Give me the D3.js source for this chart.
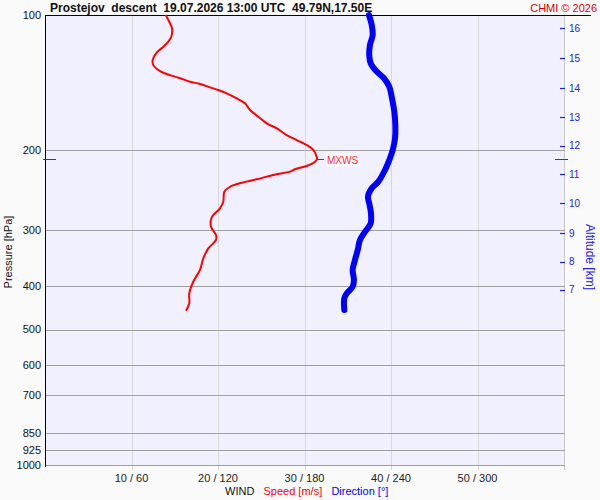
<!DOCTYPE html>
<html><head><meta charset="utf-8">
<script src="https://cdn.jsdelivr.net/npm/d3@7"></script>
<style>
html,body{margin:0;padding:0;background:#fafafa;}
svg{display:block;font-family:"Liberation Sans",Arial,sans-serif;}
</style></head>
<body><svg id="c" width="600" height="500"></svg>
<script>
// ---- data ----
const titleText = "Prostejov  descent  19.07.2026 13:00 UTC  49.79N,17.50E";
const creditText = "CHMI © 2026";
const pressureTicks = [100,200,300,400,500,600,700,850,925,1000];
const speedTicks = [10,20,30,40,50];
const dirTicks = [60,120,180,240,300];
const altKm = [7,8,9,10,11,12,13,14,15,16];
const altPressure = [408.3,353.3,305.6,262.1,225.9,195.2,168.8,145.5,124.8,107.0];

const speedPressure = [100,104.3,107,111.8,114.6,117.6,121.3,125.9,129.2,132.5,134.4,136.4,138.2,140.7,142.3,144.8,146.8,149.3,153.2,157.1,162.6,168.3,174.1,178.6,184.8,189.6,194.5,199.5,206.5,209,211.8,216.5,220.2,222.9,226.7,231.8,235.9,240.8,247,260,268.9,281.6,295.4,308.3,316.2,330,347.3,368.6,391.5,415.4,437.2,454.2];
const speedValues = [13.95,14.45,14.68,14.6,14.25,13.68,12.91,12.45,12.52,13.1,13.68,14.65,15.61,16.76,17.92,19.08,20.03,21.0,22.16,23.12,23.7,24.66,25.63,26.79,27.94,29.1,30.25,31.02,31.41,31.45,31.21,30.25,28.9,28.32,26.39,24.47,22.74,21.39,20.73,20.61,20.23,19.27,19.19,19.77,19.77,18.88,18.3,17.92,17.14,16.68,16.68,16.3];

const dirPressure = [100,105.2,110.8,116.6,122.7,128.0,133.6,138.2,144.3,153.2,164.0,175.6,187.9,199.5,210.1,221.1,234.6,242.7,253.4,262.1,275.9,290.4,303.1,316.2,333,350.4,368.6,387.9,401.6,415.4,426.2,452.4];
const dirValues = [224.7,226.6,227.3,225.4,224.9,225.9,230.1,235.1,238.8,240.7,242.3,243,242.8,241.2,238.8,235.8,231.2,226.6,224,224.9,226.1,225.9,222,218.5,216.9,215,213.4,214.3,213.4,209.3,207.6,207.6];

const mxwsPressure = 209;
const mxwsSpeed = 31.45;

// ---- scales ----
const svg = d3.select("#c");
const L = 45, R = 564, T = 15, B = 465;
const y = d3.scaleLog().domain([100,1000]).range([T,B]);
const xs = d3.scaleLinear().domain([0,60]).range([L,R]);
const xd = d3.scaleLinear().domain([0,360]).range([L,R]);

// plot background
svg.append("rect").attr("x",L).attr("y",T).attr("width",R-L+1).attr("height",B-T).attr("fill","#f0f0ff");

// vertical grid
svg.append("g").selectAll("line").data(speedTicks.concat([60])).join("line")
  .attr("x1",d=>Math.round(xs(d))+0.5).attr("x2",d=>Math.round(xs(d))+0.5)
  .attr("y1",T).attr("y2",470)
  .attr("stroke",d=>d===60?"#c8c8c8":"#d8d8d8").attr("stroke-width",1);

// horizontal grid
svg.append("g").selectAll("line").data(pressureTicks.filter(p=>p>100)).join("line")
  .attr("x1",L).attr("x2",R+1)
  .attr("y1",d=>Math.round(y(d))+0.5).attr("y2",d=>Math.round(y(d))+0.5)
  .attr("stroke","#a0a0a0").attr("stroke-width",1);

// axes lines
svg.append("line").attr("x1",L+0.5).attr("x2",L+0.5).attr("y1",T).attr("y2",B+2).attr("stroke","#000");
svg.append("line").attr("x1",L).attr("x2",591).attr("y1",T+0.5).attr("y2",T+0.5).attr("stroke","#000");

// left pressure labels
svg.append("g").selectAll("text").data(pressureTicks).join("text")
  .attr("x",41).attr("y",d=>y(d)).attr("dy","0.35em").attr("text-anchor","end")
  .attr("font-size",11).attr("fill","#111").text(d=>d);

svg.append("text").attr("transform",`translate(12,${252}) rotate(-90)`)
  .attr("text-anchor","middle").attr("font-size",11).attr("fill","#111").text("Pressure [hPa]");

// bottom labels
svg.append("g").selectAll("text").data(speedTicks).join("text")
  .attr("x",d=>xs(d)).attr("y",478).attr("dy","0.35em").attr("text-anchor","middle")
  .attr("font-size",11).attr("fill","#222").text((d,i)=>`${d} / ${dirTicks[i]}`);

const leg = svg.append("text").attr("y",491).attr("dy","0.35em").attr("font-size",11).attr("x",225).style("white-space","pre");
leg.append("tspan").attr("fill","#111").text("WIND   ");
leg.append("tspan").attr("fill","#ff0000").text("Speed [m/s]   ");
leg.append("tspan").attr("fill","#0000ff").text("Direction [°]");

// altitude axis
const ag = svg.append("g");
ag.selectAll("line").data(altKm).join("line")
  .attr("x1",560).attr("x2",565).attr("y1",(d,i)=>Math.round(y(altPressure[i]))+0.5).attr("y2",(d,i)=>Math.round(y(altPressure[i]))+0.5)
  .attr("stroke","#2020e8").attr("stroke-width",1.2);
ag.selectAll("text").data(altKm).join("text")
  .attr("x",569).attr("y",(d,i)=>y(altPressure[i])).attr("dy","0.35em")
  .attr("font-size",10).attr("fill","#2020e8").text(d=>d);
svg.append("text").attr("transform",`translate(586,${257}) rotate(90)`)
  .attr("text-anchor","middle").attr("font-size",12).attr("fill","#2020e8").text("Altitude [km]");

// wind direction
const dirData = dirValues.map((v,i)=>[v,dirPressure[i]]);
svg.append("path").datum(dirData)
  .attr("d",d3.line().x(d=>xd(d[0])).y(d=>y(d[1])).curve(d3.curveCatmullRom))
  .attr("fill","none").attr("stroke","#0000ff").attr("stroke-width",6).attr("stroke-linejoin","round").attr("stroke-linecap","round");

// wind speed
const spdData = speedValues.map((v,i)=>[v,speedPressure[i]]);
svg.append("path").datum(spdData)
  .attr("d",d3.line().x(d=>xs(d[0])).y(d=>y(d[1])).curve(d3.curveCatmullRom))
  .attr("fill","none").attr("stroke","#ff0000").attr("stroke-width",2).attr("stroke-linejoin","round");

// MXWS markers
const ym = Math.round(y(mxwsPressure))+0.5;
svg.append("line").attr("x1",43).attr("x2",56).attr("y1",ym).attr("y2",ym).attr("stroke","#e00000");
svg.append("line").attr("x1",555).attr("x2",568).attr("y1",ym).attr("y2",ym).attr("stroke","#e00000");
svg.append("line").attr("x1",xs(mxwsSpeed)).attr("x2",xs(mxwsSpeed)+7).attr("y1",ym).attr("y2",ym).attr("stroke","#ff0000");
svg.append("rect").attr("x",xs(mxwsSpeed)+9).attr("y",ym-6).attr("width",32).attr("height",13).attr("fill","#fafaff");
svg.append("text").attr("x",xs(mxwsSpeed)+10).attr("y",ym+1).attr("dy","0.35em").attr("font-size",10).attr("fill","#ff3030").text("MXWS");

// title
svg.append("text").attr("x",50).attr("y",12).attr("font-size",12).attr("font-weight","bold").attr("fill","#111").style("white-space","pre").text(titleText);
svg.append("text").attr("x",597).attr("y",12).attr("text-anchor","end").attr("font-size",11).attr("fill","#e00000").text(creditText);
</script></body></html>
